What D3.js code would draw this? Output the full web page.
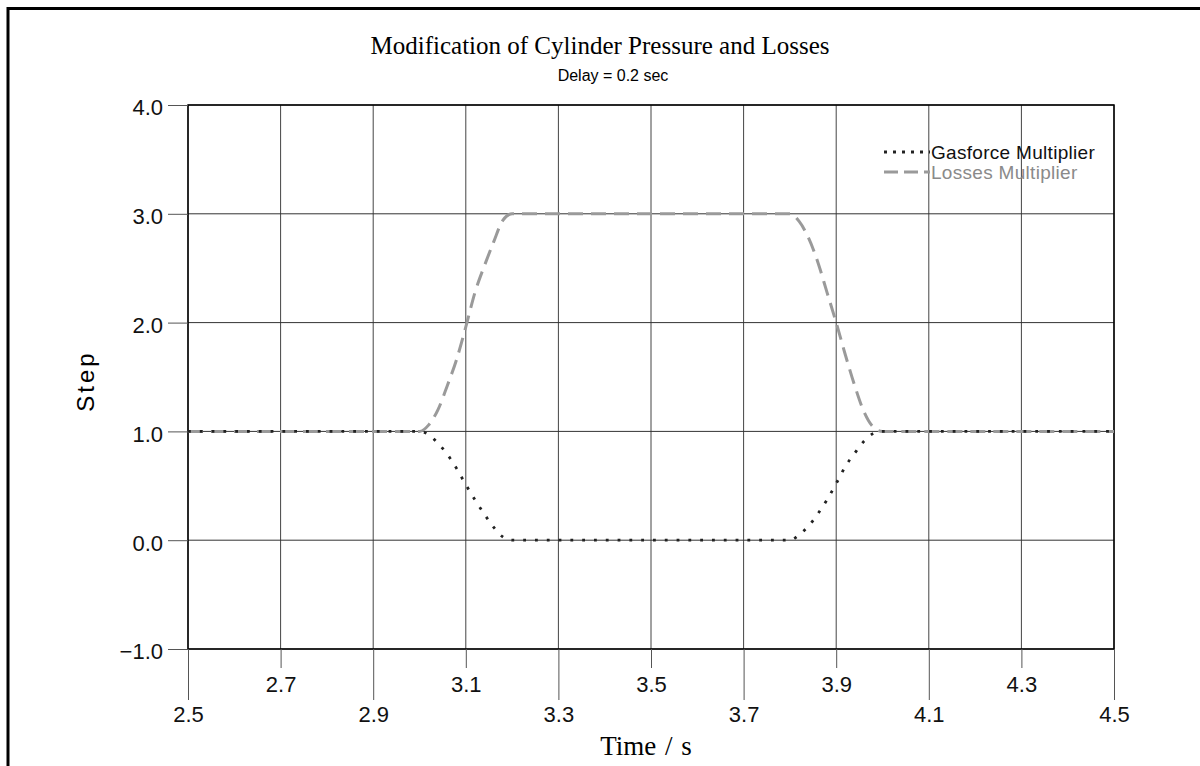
<!DOCTYPE html>
<html>
<head>
<meta charset="utf-8">
<script src="https://cdn.jsdelivr.net/npm/d3@7"></script>
<style>
  body { margin: 0; background: #fff; }
  svg { display: block; }
</style>
</head>
<body>
<svg></svg>
<script>
var width = 1200;
var height = 766;

// time samples (s)
var times = [2.5, 3.0, 3.02, 3.04, 3.06, 3.08, 3.10, 3.12, 3.14, 3.16, 3.18, 3.20,
             3.80, 3.82, 3.84, 3.86, 3.88, 3.90, 3.92, 3.94, 3.96, 3.98, 4.00, 4.5];
var gasforce = [1, 1, 0.97, 0.89, 0.79, 0.66, 0.51, 0.37, 0.24, 0.12, 0.03, 0,
                0, 0.05, 0.13, 0.24, 0.37, 0.52, 0.68, 0.80, 0.91, 0.98, 1, 1];
var losses = [1, 1, 1.06, 1.2, 1.42, 1.66, 1.96, 2.28, 2.52, 2.74, 2.94, 3,
              3, 2.93, 2.78, 2.56, 2.28, 2.0, 1.70, 1.42, 1.18, 1.04, 1, 1];

var xTicks = [2.5, 2.7, 2.9, 3.1, 3.3, 3.5, 3.7, 3.9, 4.1, 4.3, 4.5];
var yTicks = [-1, 0, 1, 2, 3, 4];
var seriesNames = ["Gasforce Multiplier", "Losses Multiplier"];

var margin = { left: 188, right: 86, top: 105, bottom: 117 };
var sans = "Liberation Sans, Arial, sans-serif";
var serif = "Liberation Serif, Times New Roman, serif";

var svg = d3.select("svg")
  .attr("width", width)
  .attr("height", height);

// outer frame (cropped at right/bottom)
svg.append("path")
  .attr("d", "M8,770 L8,8.5 L1200,8.5")
  .attr("fill", "none")
  .attr("stroke", "#000")
  .attr("stroke-width", 3);

var x = d3.scaleLinear()
  .domain([2.5, 4.5])
  .range([margin.left, width - margin.right]);

var y = d3.scaleLinear()
  .domain([-1, 4])
  .range([height - margin.bottom, margin.top]);

// grid
svg.append("g")
  .selectAll("line")
  .data(xTicks)
  .join("line")
    .attr("x1", d => x(d)).attr("x2", d => x(d))
    .attr("y1", y(4)).attr("y2", y(-1))
    .attr("stroke", "#444")
    .attr("stroke-width", 1);

svg.append("g")
  .selectAll("line")
  .data(yTicks)
  .join("line")
    .attr("x1", x(2.5)).attr("x2", x(4.5))
    .attr("y1", d => y(d)).attr("y2", d => y(d))
    .attr("stroke", "#333")
    .attr("stroke-width", 1);

// plot frame
svg.append("rect")
  .attr("x", x(2.5))
  .attr("y", y(4))
  .attr("width", x(4.5) - x(2.5))
  .attr("height", y(-1) - y(4))
  .attr("fill", "none")
  .attr("stroke", "#000")
  .attr("stroke-width", 1.5);

// y axis
var yAxis = svg.append("g")
  .attr("transform", "translate(" + x(2.5) + ",0)")
  .call(d3.axisLeft(y).tickValues(yTicks).tickSize(20).tickPadding(5)
    .tickFormat(d => d3.format(".1f")(d).replace("-", "\u2212")));
yAxis.select(".domain").remove();
yAxis.selectAll(".tick line").attr("stroke", "#555");
yAxis.selectAll(".tick text")
  .attr("font-family", sans)
  .attr("font-size", 22)
  .attr("fill", "#111")
  .attr("dy", "0.45em");

// x axis with staggered labels
var xAxis = svg.append("g")
  .attr("transform", "translate(0," + y(-1) + ")")
  .call(d3.axisBottom(x).tickValues(xTicks).tickSize(0).tickFormat(d3.format(".1f")));
xAxis.select(".domain").remove();
xAxis.selectAll(".tick line")
  .attr("y2", (d, i) => i % 2 === 0 ? 51 : 19)
  .attr("stroke", "#555");
xAxis.selectAll(".tick text")
  .attr("font-family", sans)
  .attr("font-size", 22)
  .attr("fill", "#111")
  .attr("y", (d, i) => i % 2 === 0 ? 73 : 43)
  .attr("dy", 0);

// series
var pts = times.map((t, i) => ({ t: t, g: gasforce[i], l: losses[i] }));
var lineG = d3.line().x(d => x(d.t)).y(d => y(d.g)).curve(d3.curveMonotoneX);
var lineL = d3.line().x(d => x(d.t)).y(d => y(d.l)).curve(d3.curveMonotoneX);

svg.append("path")
  .datum(pts)
  .attr("d", lineL)
  .attr("fill", "none")
  .attr("stroke", "#9a9a9a")
  .attr("stroke-width", 3)
  .attr("stroke-dasharray", "15,8");

svg.append("path")
  .datum(pts)
  .attr("d", lineG)
  .attr("fill", "none")
  .attr("stroke", "#222")
  .attr("stroke-width", 2.8)
  .attr("stroke-dasharray", "2.8,9");

// legend
var legend = svg.append("g").attr("transform", "translate(884,152)");
legend.append("line")
  .attr("x1", 0).attr("x2", 46).attr("y1", 0).attr("y2", 0)
  .attr("stroke", "#222").attr("stroke-width", 3).attr("stroke-dasharray", "3,6");
legend.append("line")
  .attr("x1", 0).attr("x2", 46).attr("y1", 20).attr("y2", 20)
  .attr("stroke", "#9a9a9a").attr("stroke-width", 3).attr("stroke-dasharray", "14,6");
legend.selectAll("text")
  .data(seriesNames)
  .join("text")
    .attr("x", 47)
    .attr("y", (d, i) => i * 20)
    .attr("dy", "0.35em")
    .attr("font-family", sans)
    .attr("font-size", 19)
    .attr("letter-spacing", 0.3)
    .attr("fill", (d, i) => i === 0 ? "#111" : "#8a8a8a")
    .text(d => d);

// titles
svg.append("text")
  .attr("x", 600).attr("y", 54)
  .attr("text-anchor", "middle")
  .attr("font-family", serif)
  .attr("font-size", 25)
  .text("Modification of Cylinder Pressure and Losses");

svg.append("text")
  .attr("x", 613).attr("y", 81)
  .attr("text-anchor", "middle")
  .attr("font-family", sans)
  .attr("font-size", 16)
  .text("Delay = 0.2 sec");

svg.append("text")
  .attr("x", 646).attr("y", 755)
  .attr("text-anchor", "middle")
  .attr("font-family", serif)
  .attr("font-size", 27)
  .attr("word-spacing", 2)
  .text("Time / s");

svg.append("text")
  .attr("transform", "translate(94,381) rotate(-90)")
  .attr("text-anchor", "middle")
  .attr("font-family", sans)
  .attr("font-size", 24)
  .attr("letter-spacing", 3)
  .text("Step");
</script>
</body>
</html>
